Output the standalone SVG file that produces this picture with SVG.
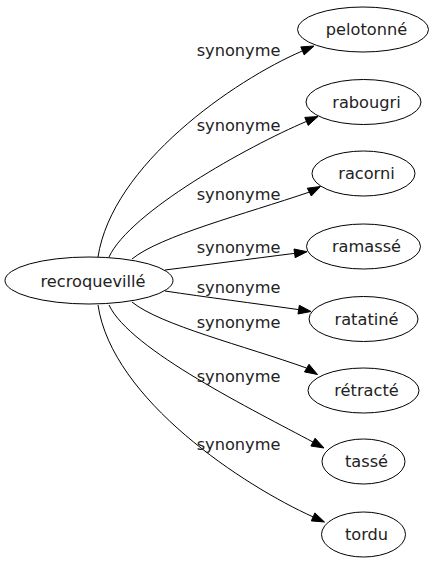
<svg xmlns="http://www.w3.org/2000/svg" width="435" height="563" viewBox="0 0 435 563">
<style>
.node ellipse{fill:none;stroke:#000;stroke-width:1}
.node text{font-family:"DejaVu Sans",Verdana,sans-serif;font-size:16.2px;fill:#222;text-anchor:middle}
.edge path{fill:none;stroke:#000;stroke-width:1}
.edge polygon{fill:#000;stroke:#000;stroke-width:1}
.edge text{font-family:"DejaVu Sans",Verdana,sans-serif;font-size:16.2px;fill:#222;text-anchor:middle}
</style>
<rect width="435" height="563" fill="#fff"/>
<g id="edges">
<g class="edge" id="e1"><path d="M98,257 C112,165 233.6,80.5 302.5,50.9"/><polygon points="314,46 304.2,54.9 300.8,46.9"/><text x="238.5" y="56">synonyme</text></g>
<g class="edge" id="e2"><path d="M109,257 C130,212 246.7,146.8 306.5,121.4"/><polygon points="318,116.5 308.2,125.4 304.8,117.4"/><text x="238.5" y="131">synonyme</text></g>
<g class="edge" id="e3"><path d="M132,259 C160,236 245,214 309.3,192.1"/><polygon points="320.5,186.5 311.3,196 307.3,188.2"/><text x="238.5" y="200">synonyme</text></g>
<g class="edge" id="e4"><path d="M165,270 C205,265 250,259 294.6,253.35"/><polygon points="307,251.7 295.2,257.7 294,249"/><text x="238.5" y="253">synonyme</text></g>
<g class="edge" id="e5"><path d="M165,291 C205,297 255,303.5 298.6,309.6"/><polygon points="311,311.5 298,314 299.3,305.3"/><text x="238.5" y="293">synonyme</text></g>
<g class="edge" id="e6"><path d="M132,302 C160,325 245,346 306.7,368.1"/><polygon points="317.5,374.5 304.5,371.9 309,364.3"/><text x="238.5" y="328">synonyme</text></g>
<g class="edge" id="e7"><path d="M109,305 C130,350 255.8,411.2 313,442.1"/><polygon points="324,448 310.9,446 315.1,438.2"/><text x="238.5" y="382">synonyme</text></g>
<g class="edge" id="e8"><path d="M98,305 C112,400 244.9,486.2 313.1,516.9"/><polygon points="324.5,522 311.3,520.9 314.9,512.9"/><text x="238.5" y="450">synonyme</text></g>
</g>
<g class="node" id="n0"><ellipse cx="89" cy="280.5" rx="84" ry="23.5"/><text x="93" y="286.5">recroquevillé</text></g>
<g class="node" id="n1"><ellipse cx="363" cy="29.5" rx="65.5" ry="22.5"/><text x="366.5" y="35.3">pelotonné</text></g>
<g class="node" id="n2"><ellipse cx="363.5" cy="102" rx="57.5" ry="22.5"/><text x="366.5" y="107.8">rabougri</text></g>
<g class="node" id="n3"><ellipse cx="363.5" cy="173.5" rx="51.5" ry="22.5"/><text x="366.5" y="179.3">racorni</text></g>
<g class="node" id="n4"><ellipse cx="363.5" cy="246.5" rx="57" ry="22.5"/><text x="366.5" y="252.3">ramassé</text></g>
<g class="node" id="n5"><ellipse cx="363.5" cy="319" rx="54.5" ry="22.5"/><text x="366.5" y="324.8">ratatiné</text></g>
<g class="node" id="n6"><ellipse cx="363.5" cy="390.5" rx="55.5" ry="22.5"/><text x="366.5" y="396.3">rétracté</text></g>
<g class="node" id="n7"><ellipse cx="363.5" cy="461.5" rx="41.5" ry="22.5"/><text x="366.5" y="467.3">tassé</text></g>
<g class="node" id="n8"><ellipse cx="363.5" cy="534.5" rx="42" ry="22.5"/><text x="366.5" y="540.3">tordu</text></g>
</svg>
